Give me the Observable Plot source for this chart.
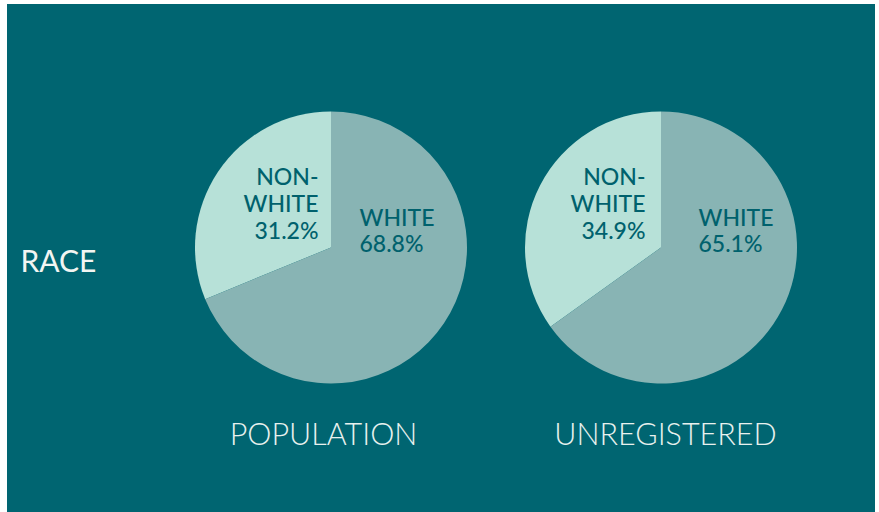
<!DOCTYPE html>
<html>
<head>
<meta charset="utf-8">
<script src="https://cdn.jsdelivr.net/npm/d3@7"></script>
<script src="https://cdn.jsdelivr.net/npm/@observablehq/plot@0.6"></script>
<style>
  html, body { margin: 0; padding: 0; background: #ffffff; }
  #chart { position: absolute; left: 7px; top: 4px; }
  #chart svg { background: #006571; display: block; }
</style>
</head>
<body>
<div id="chart"></div>
<script>
const groups = ["POPULATION", "UNREGISTERED"];
const categories = ["NON-WHITE", "WHITE"];
const nonWhite = [31.2, 34.9];
const white = [68.8, 65.1];
const rowTitle = "RACE";

const colors = { "NON-WHITE": "#b7e1d8", "WHITE": "#88b4b4" };

const slices = [];
groups.forEach((g, i) => {
  const arcs = d3.pie().sort(null).value(d => d.value)
    .startAngle(0).endAngle(-2 * Math.PI)([
      { cat: "NON-WHITE", value: nonWhite[i] },
      { cat: "WHITE", value: white[i] }
    ]);
  arcs.forEach(a => slices.push({ group: g, cat: a.data.cat, value: a.data.value, startAngle: a.startAngle, endAngle: a.endAngle }));
});

const W = 868, H = 508;
const R = 136;

const pieMark = (index, scales) => {
  const g = d3.create("svg:g");
  const arc = d3.arc().innerRadius(0).outerRadius(R);
  for (const s of slices) {
    g.append("path")
      .attr("transform", `translate(${scales.x(s.group)},${scales.y(243.5)})`)
      .attr("d", arc(s))
      .attr("fill", colors[s.cat]);
  }
  return g.node();
};

const labelsNon = groups.map((g, i) => ({ group: g, text: `NON-\nWHITE\n${nonWhite[i].toFixed(1)}%` }));
const labelsWhite = groups.map((g, i) => ({ group: g, text: `WHITE\n${white[i].toFixed(1)}%` }));
const dxNon = [-13, -16];
const dxWhite = [28, 37];
const dxTitle = [-8, 4];

const chart = Plot.plot({
  width: W,
  height: H,
  margin: 0,
  x: { type: "point", domain: groups, range: [324, 654], padding: 0, axis: null },
  y: { type: "linear", domain: [0, H], range: [0, H], axis: null },
  style: { fontFamily: "Lato, 'Open Sans', sans-serif", overflow: "visible" },
  marks: [
    pieMark,
    ...labelsNon.map((d, i) => Plot.text([d], {
      x: "group", y: () => 199, text: "text", dx: dxNon[i],
      textAnchor: "end", lineHeight: 1.16, fontSize: 23, fill: "#00616d", fontWeight: 500
    })),
    ...labelsWhite.map((d, i) => Plot.text([d], {
      x: "group", y: () => 226, text: "text", dx: dxWhite[i],
      textAnchor: "start", lineHeight: 1.16, fontSize: 23, fill: "#00616d", fontWeight: 500
    })),
    ...groups.map((g, i) => Plot.text([g], {
      x: d => d, y: () => 431, text: d => d, dx: dxTitle[i],
      fontSize: 30.5, fontWeight: 300, fill: "#e8f1ee"
    })),
    Plot.text([rowTitle], {
      x: () => groups[0], y: () => 258, text: d => d, dx: -311,
      textAnchor: "start", fontSize: 30, fill: "#f2f5f2"
    })
  ]
});

document.getElementById("chart").appendChild(chart);
</script>
</body>
</html>
